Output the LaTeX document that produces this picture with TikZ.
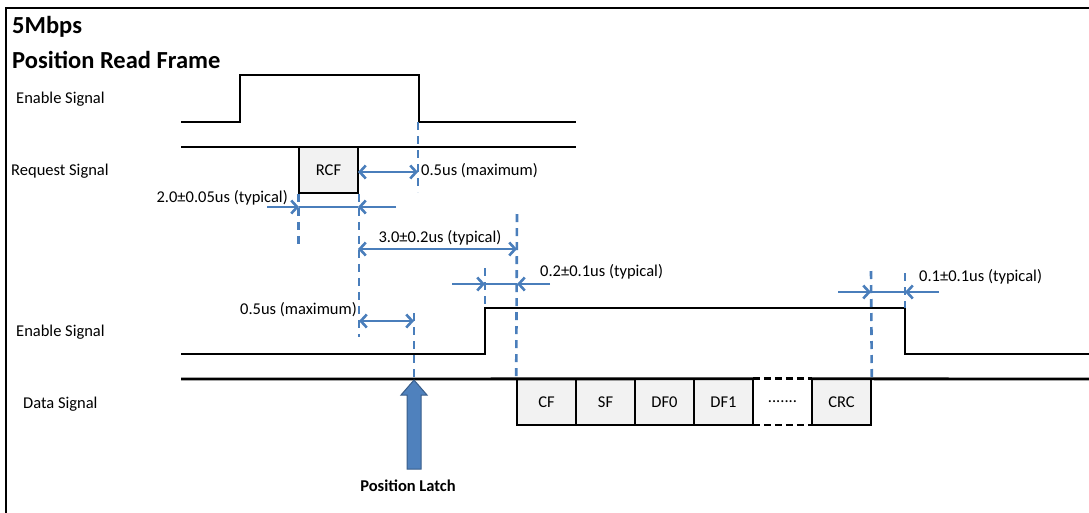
\documentclass[tikz,border=0pt]{standalone}
\usepackage{fontspec}
\setmainfont{Carlito}
\usetikzlibrary{arrows.meta}
\definecolor{dimblue}{HTML}{4A7EBB}
\definecolor{boxgray}{HTML}{F2F2F2}
\definecolor{latchblue}{HTML}{4F81BD}
\definecolor{latchedge}{HTML}{385D8A}

\begin{document}
\begin{tikzpicture}[
            x=1pt,
            y=-1pt,
            >={Straight Barb[length=6pt,width=13pt]},
            wave/.style={line width=2.8pt,line join=miter},
            dim/.style={draw=dimblue,line width=2.6pt},
            guide/.style={draw=dimblue,line width=2.6pt,dash pattern=on 8pt off 6pt},
            field/.style={draw,line width=1.6pt,fill=boxgray,minimum width=59pt,minimum height=46pt,inner sep=0pt},
            lbl/.style={inner sep=0pt,font=\fontsize{16.5}{19}\selectfont},
            title/.style={inner sep=0pt,anchor=west,font=\fontsize{24.5}{28}\selectfont\bfseries}
        ]
            \useasboundingbox (0,0) rectangle (1089,512);
            \clip (0,0) rectangle (1089,512);
            \draw[line width=2.2pt] (6,530) -- (6,8) -- (1110,8);

            \node[title] (t1) at (12,27) {5Mbps};
            \node[title] (t2) at (12,60) {Position Read Frame};

            \node[lbl,anchor=west] (en1) at (16,99) {Enable Signal};
            \node[lbl,anchor=west] (req) at (11,171) {Request Signal};
            \node[lbl,anchor=west] (en2) at (16,332) {Enable Signal};
            \node[lbl,anchor=west] (dat) at (23,404) {Data Signal};

            % request part
            \node[field,lbl] (rcf) at (328.5,170) {RCF};
            \draw[wave] (181,122) -- (240,122) -- (240,75) -- (419,75) -- (419,122) -- (576,122);
            \draw[wave] (181,147) -- (576,147);

            % response part
            \foreach \i/\t in {0/CF,1/SF,2/DF0,3/DF1,5/CRC} {
                \node[field,lbl] (f\i) at (546.5+59*\i,402) {\t};
            }
            \node[lbl,minimum width=59pt,minimum height=46pt] (f4) at (782.5,402) {.......};
            \draw[line width=1.6pt,dash pattern=on 7pt off 4pt] (f4.south west) -- (f4.south east);
            \draw[wave] (181,379) -- (f4.north west);
            \draw[wave,dash pattern=on 7pt off 4pt] (f4.north west) -- (f4.north east);
            \draw[wave] (f4.north east) -- (1110,379);
            \draw[wave] (181,354) -- (485,354) -- (485,308) -- (905,308) -- (905,354) -- (1110,354);

            % timing marks
            \coordinate (g1) at (418,122);
            \coordinate (g4) at (517,214);
            \coordinate (g5) at (485,268);
            \coordinate (g6) at (414,313);
            \coordinate (g7) at (871,271);
            \coordinate (g8) at (905,273);
            \draw[guide] (g1) -- ++(0,70);
            \draw[guide] (rcf.south west) -- ++(0,53);
            \draw[guide] (rcf.south east) -- ++(0,143);
            \draw[guide] (g4) -- (f0.north west);
            \draw[guide] (g5) -- ++(0,40);
            \draw[guide] (g6) -- ++(0,66);
            \draw[guide] (g7) -- (f5.north east);
            \draw[guide] (g8) -- ++(0,35);

            % dimensions
            \coordinate (a1) at (358,172);
            \draw[dim,<->] (a1) -- (a1 -| g1);
            \node[lbl,anchor=west] (m1) at (421,171) {0.5us (maximum)};

            \coordinate (a2l) at (299,207);
            \coordinate (a2r) at (358,207);
            \draw[dim,->] ([xshift=-32pt]a2l) -- (a2l);
            \draw[dim] (a2l) -- (a2r);
            \draw[dim,->] ([xshift=38pt]a2r) -- (a2r);
            \node[lbl,anchor=east] (m2) at (288,198) {2.0±0.05us (typical)};

            \coordinate (a3) at (358,249);
            \draw[dim,<->] (a3) -- (a3 -| g4);
            \node[lbl] (m3) at (440,238) {3.0±0.2us (typical)};

            \coordinate (a4) at (359,321);
            \draw[dim,<->] (a4) -- (a4 -| g6);
            \node[lbl,anchor=east] (m4) at (357,310) {0.5us (maximum)};

            \coordinate (a5l) at (485,284);
            \coordinate (a5r) at (517,284);
            \draw[dim,->] ([xshift=-33pt]a5l) -- (a5l);
            \draw[dim] (a5l) -- (a5r);
            \draw[dim,->] ([xshift=33pt]a5r) -- (a5r);
            \node[lbl,anchor=west] (m5) at (540,272) {0.2±0.1us (typical)};

            \coordinate (a6l) at (871,292);
            \coordinate (a6r) at (905,292);
            \draw[dim,->] ([xshift=-33pt]a6l) -- (a6l);
            \draw[dim] (a6l) -- (a6r);
            \draw[dim,->] ([xshift=34pt]a6r) -- (a6r);
            \node[lbl,anchor=west] (m6) at (919,277) {0.1±0.1us (typical)};

            % latch
            \draw[fill=latchblue,draw=latchedge,line width=1pt]
                (414,380) -- (427,395) -- (421,395) -- (421,469) -- (407,469) -- (407,395) -- (401,395) -- cycle;
            \node[lbl,font=\fontsize{16.5}{19}\selectfont\bfseries] (pl) at (408,486) {Position Latch};
        \end{tikzpicture}
\end{document}
